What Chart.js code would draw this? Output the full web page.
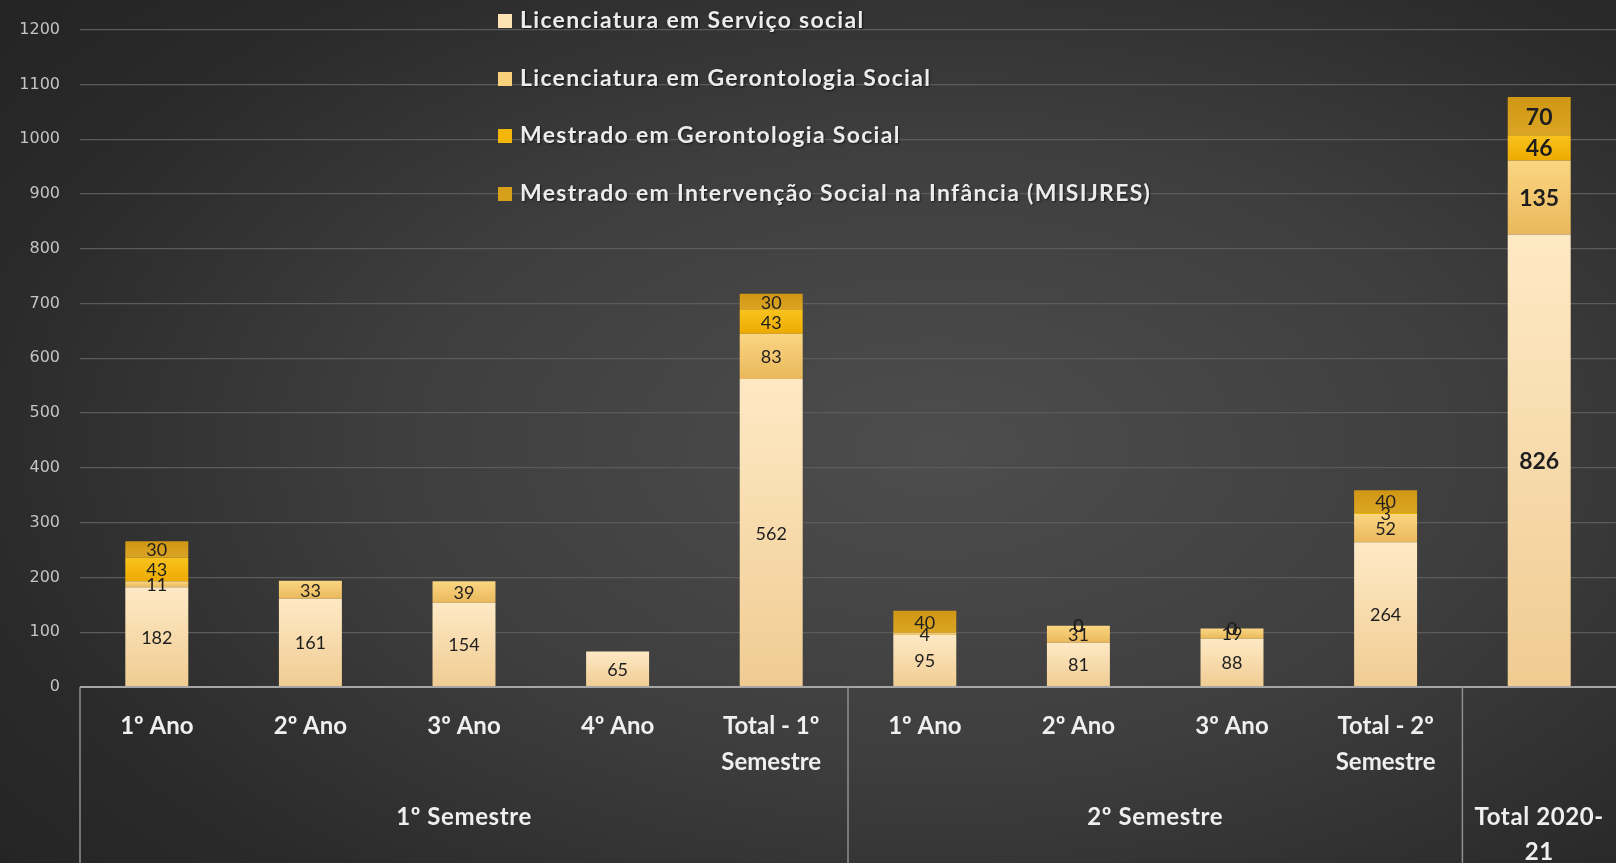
<!DOCTYPE html>
<html lang="pt">
<head>
<meta charset="utf-8">
<title>Estudantes 2020-21</title>
<script src="https://cdn.jsdelivr.net/npm/chart.js@4.4.1/dist/chart.umd.min.js"></script>
<style>
    html, body { margin: 0; padding: 0; width: 1616px; height: 863px; overflow: hidden; }
    body { background: radial-gradient(ellipse 75% 80% at 58% 52%, #4d4d4d 0%, #3e3e3e 45%, #2a2a2a 80%, #242424 100%); }
    #wrap { position: relative; width: 1616px; height: 863px; }
</style>
</head>
<body>
<div id="wrap"><canvas id="chart"></canvas></div>
<script>
// categorias (nível interior do eixo)
const categories = [
    ["1º Ano"], ["2º Ano"], ["3º Ano"], ["4º Ano"], ["Total - 1º", "Semestre"],
    ["1º Ano"], ["2º Ano"], ["3º Ano"], ["Total - 2º", "Semestre"], [""]
];
// grupos (nível exterior) e quantas categorias cada um abrange
const groupLabels = [["1º Semestre"], ["2º Semestre"], ["Total 2020-", "21"]];
const groupSpans = [5, 4, 1];

// séries
const seriesNames = [
    "Licenciatura em Serviço social",
    "Licenciatura em Gerontologia Social",
    "Mestrado em Gerontologia Social",
    "Mestrado em Intervenção Social na Infância (MISIJRES)"
];
const licServico   = [182, 161, 154, 65, 562, 95, 81, 88, 264, 826];
const licGeronto   = [11, 33, 39, null, 83, 4, 31, 19, 52, 135];
const mestGeronto  = [43, null, null, null, 43, null, 0, 0, 3, 46];
const mestMisijres = [30, null, null, null, 30, 40, 0, 0, 40, 70];

// eixo y
const yMin = 0;
const yMax = 1200;
const yStep = 100;

const allSeries = [licServico, licGeronto, mestGeronto, mestMisijres];
const legendColors = ["#fde3b4", "#f9d17a", "#f5b60a", "#d6a01a"];
const gradStops = [
    ["#fee9c5", "#f0cc92"],
    ["#fbd682", "#eab85c"],
    ["#f8c21e", "#eeab00"],
    ["#d09614", "#dba624"]
];

// gradiente vertical por segmento, a partir dos valores empilhados
function segmentFill(c) {
    const chart = c.chart;
    const di = c.datasetIndex, i = c.dataIndex;
    if (!chart.chartArea || !chart.scales.y || i === undefined) return legendColors[di];
    let start = 0;
    for (let k = 0; k < di; k++) start += allSeries[k][i] || 0;
    const end = start + (allSeries[di][i] || 0);
    const y0 = chart.scales.y.getPixelForValue(start);
    const y1 = chart.scales.y.getPixelForValue(end);
    if (!isFinite(y0) || !isFinite(y1) || y0 === y1) return legendColors[di];
    const g = chart.ctx.createLinearGradient(0, y1, 0, y0);
    g.addColorStop(0, gradStops[di][0]);
    g.addColorStop(1, gradStops[di][1]);
    return g;
}

// rótulos de valores dentro das barras
const valueLabels = {
    id: "valueLabels",
    afterDatasetsDraw(chart) {
        const ctx = chart.ctx;
        ctx.save();
        ctx.textAlign = "center";
        ctx.textBaseline = "middle";
        ctx.fillStyle = "#1e1e1e";
        chart.data.datasets.forEach((ds, di) => {
            chart.getDatasetMeta(di).data.forEach((bar, i) => {
                const v = ds.data[i];
                if (v === null || v === undefined) return;
                const last = i === ds.data.length - 1;
                ctx.font = last ? "bold 23px Lato" : "18px Lato";
                ctx.fillText(String(v), bar.x, (bar.y + bar.base) / 2 + 1);
            });
        });
        ctx.restore();
    }
};

// linhas do eixo, separadores de grupos e rótulos de grupos
const groupAxis = {
    id: "groupAxis",
    afterDraw(chart) {
        const ctx = chart.ctx;
        const x = chart.scales.x;
        const area = chart.chartArea;
        const half = (x.getPixelForValue(1) - x.getPixelForValue(0)) / 2;
        ctx.save();
        ctx.strokeStyle = "#a6a6a6";
        ctx.lineWidth = 2;
        ctx.beginPath();
        ctx.moveTo(area.left, area.bottom);
        ctx.lineTo(area.right, area.bottom);
        ctx.stroke();
        ctx.lineWidth = 1.5;
        ctx.strokeStyle = "#8f8f8f";
        ctx.beginPath();
        ctx.moveTo(area.left, area.bottom);
        ctx.lineTo(area.left, chart.height);
        let idx = 0;
        const centers = [];
        groupSpans.forEach(span => {
            const a = x.getPixelForValue(idx) - half;
            const b = x.getPixelForValue(idx + span - 1) + half;
            centers.push((a + b) / 2);
            if (idx + span < categories.length) {
                ctx.moveTo(b, area.bottom);
                ctx.lineTo(b, chart.height);
            }
            idx += span;
        });
        ctx.stroke();

        ctx.fillStyle = "#efefef";
        ctx.font = "bold 24px Lato";
        ctx.letterSpacing = "0.6px";
        ctx.textAlign = "center";
        ctx.textBaseline = "middle";
        groupLabels.forEach((lines, g) => {
            lines.forEach((t, li) => ctx.fillText(t, centers[g], 817 + li * 35));
        });
        ctx.restore();
    }
};

// legenda vertical dentro da área do gráfico
const innerLegend = {
    id: "innerLegend",
    afterDraw(chart) {
        const ctx = chart.ctx;
        const ys = [21, 79, 136, 194];
        ctx.save();
        ctx.font = "bold 23px Lato";
        ctx.letterSpacing = "1.3px";
        ctx.textBaseline = "middle";
        ctx.textAlign = "left";
        seriesNames.forEach((name, i) => {
            ctx.fillStyle = legendColors[i];
            ctx.fillRect(498, ys[i] - 7, 14, 14);
            ctx.shadowColor = "rgba(0,0,0,0.6)";
            ctx.shadowBlur = 2;
            ctx.shadowOffsetX = 1;
            ctx.shadowOffsetY = 1;
            ctx.fillStyle = "#ececec";
            ctx.fillText(name, 520, ys[i]);
            ctx.shadowColor = "transparent";
        });
        ctx.restore();
    }
};

const chart = new Chart(document.getElementById("chart"), {
    type: "bar",
    data: {
        labels: categories,
        datasets: allSeries.map((data, i) => ({
            label: seriesNames[i],
            data: data,
            backgroundColor: segmentFill,
            borderWidth: 0,
            categoryPercentage: 1,
            barPercentage: 0.41
        }))
    },
    options: {
        responsive: true,
        maintainAspectRatio: false,
        animation: false,
        layout: { padding: { top: 25, left: 0, right: 0, bottom: 0 } },
        plugins: {
            legend: { display: false },
            tooltip: { enabled: false }
        },
        scales: {
            x: {
                stacked: true,
                grid: { display: false, drawTicks: false },
                border: { display: false },
                ticks: {
                    color: "#efefef",
                    font: { family: "Lato", size: 24, weight: "bold", lineHeight: 1.5 },
                    padding: 21,
                    maxRotation: 0,
                    autoSkip: false
                },
                afterFit(scale) { scale.height = 176; }
            },
            y: {
                stacked: true,
                min: yMin,
                max: yMax,
                grid: { color: "#5b5b5b", lineWidth: 1.2, drawTicks: false },
                border: { display: false },
                ticks: {
                    stepSize: yStep,
                    color: "#c4c4c4",
                    font: { family: "DejaVu Sans", size: 16 },
                    padding: 20,
                    callback: v => String(v)
                },
                afterFit(scale) { scale.width = 80; }
            }
        }
    },
    plugins: [valueLabels, groupAxis, innerLegend]
});
</script>
</body>
</html>
